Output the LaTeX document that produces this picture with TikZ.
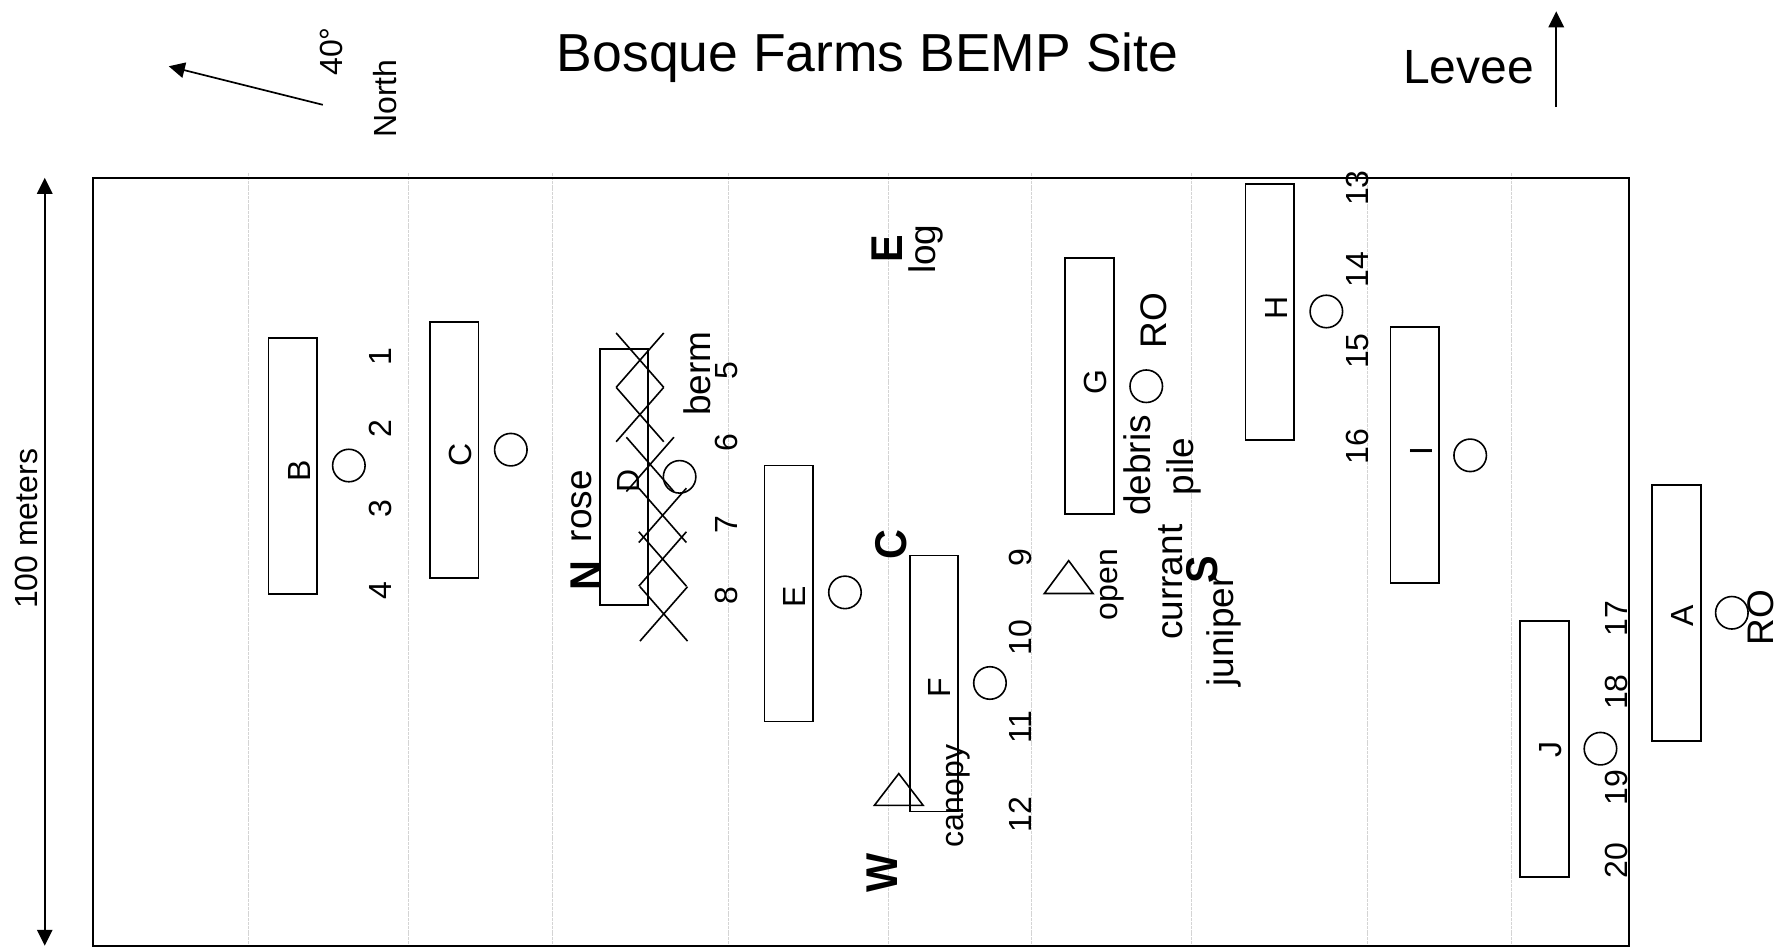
\documentclass[tikz,border=0pt]{standalone}
\usepackage{fontspec}
\setmainfont{Liberation Sans}
\usetikzlibrary{arrows.meta}
\newcommand{\sz}[1]{\fontsize{#1}{#1}\selectfont}
\newcommand{\bt}[1]{\scalebox{0.93}[1]{#1}}
\tikzset{
  plotbox/.style={draw=black,line width=1.8pt,minimum width=48.5pt,minimum height=256pt,inner sep=0pt},
  ring/.style={draw=black,line width=1.6pt,circle,minimum size=32.5pt,inner sep=0pt},
  vtxt/.style={rotate=90,anchor=base,inner sep=0pt,text=black},
  small/.style={vtxt,font=\sz{32}},
  big/.style={vtxt,font=\sz{37}},
  boldt/.style={vtxt,font=\bfseries\sz{44.5}},
  grid line/.style={draw=black!17,line width=0.9pt,dash pattern=on 3pt off 0.8pt},
  xmark/.style={draw=black,line width=1.6pt},
  tri/.style={draw=black,line width=1.6pt},
  arr/.style={draw=black,line width=1.7pt,-{Triangle[length=16pt,width=15.5pt]}},
  darr/.style={draw=black,line width=1.7pt,{Triangle[length=16pt,width=15.5pt]}-{Triangle[length=16pt,width=15.5pt]}}
}
\begin{document}
\begin{tikzpicture}[x=1.13265pt,y=-1.13265pt]
\useasboundingbox (0,0) rectangle (1568,837);
% grid lines
\foreach \gx in {219,360.5,487.5,643,784.5,911,1052,1207.5,1334.5}
  \draw[grid line] (\gx,153) -- (\gx,833);
% frame
\node[draw=black,line width=1.9pt,inner sep=0pt,minimum width=1536pt,minimum height=768pt] (frame) at (760,496) {};
% title
\node[anchor=base,inner sep=0pt,font=\sz{53.5}] (title) at (766,63) {Bosque Farms BEMP Site};
\node[anchor=base,inner sep=0pt,font=\sz{48}] (levee) at (1296.5,73.5) {Levee};
% arrows
\coordinate (lv0) at (1374,94.5); \coordinate (lv1) at (1374,10);
\draw[arr] (lv0) -- (lv1);
\coordinate (nr0) at (285,92.5); \coordinate (nr1) at (149,58.5);
\draw[arr] (nr0) -- (nr1);
\coordinate (m0) at (39.5,157); \coordinate (m1) at (39.5,835);
\draw[darr] (m0) -- (m1);
\node[small] (deg) at (302,45.5) {40°};
\node[small] (north) at (350,87) {North};
\node[small] (meters) at (33,467) {100 meters};
% plots
\node[plotbox] (pB) at (258.5,411.5) {};
\node[plotbox] (pC) at (401,397.5) {};
\node[plotbox] (pD) at (551,421) {};
\node[plotbox] (pE) at (696.3,524) {};
\node[plotbox] (pF) at (824.7,603.5) {};
\node[plotbox] (pG) at (962,341) {};
\node[plotbox] (pH) at (1121,275.3) {};
\node[plotbox] (pI) at (1249,402) {};
\node[plotbox] (pJ) at (1363.7,661) {};
\node[plotbox] (pA) at (1480,541) {};
% letters
\node[small] (lB) at (274,416) {B};
\node[small] (lC) at (416,402) {C};
\node[small] (lD) at (565,425) {D};
\node[small] (lE) at (711.5,527) {E};
\node[small] (lF) at (839.5,607) {F};
\node[small] (lG) at (977,337) {G};
\node[small] (lH) at (1137,272) {H};
\node[small] (lI) at (1265,398) {I};
\node[small] (lJ) at (1379,662) {J};
\node[small] (lA) at (1495,544) {A};
% rings
\node[ring] (c1) at (308,411) {};
\node[ring] (c2) at (451,397) {};
\node[ring] (c3) at (600,421) {};
\node[ring] (c4) at (746,523) {};
\node[ring] (c5) at (874,603) {};
\node[ring] (c6) at (1012,341) {};
\node[ring] (c7) at (1171,275) {};
\node[ring] (c8) at (1298,402) {};
\node[ring] (c9) at (1413,661) {};
\node[ring] (c10) at (1529,541) {};
% triangles
\draw[tri] (793.5,683) -- (772,711) -- (815,711) -- cycle;
\draw[tri] (943.5,495) -- (922,524) -- (965,524) -- cycle;
% crosses (D plot)
\foreach \cx/\cy in {565/318, 565/366, 574/410, 585/455, 585/493.5, 586/542}
{
  \draw[xmark] (\cx-21,\cy-24) -- (\cx+21,\cy+24);
  \draw[xmark] (\cx+21,\cy-24) -- (\cx-21,\cy+24);
}
% numbers
\foreach \nx/\ny/\t in {346/315/1,346/378/2,346/449/3,346/521/4,
  651/327/5,651/391/6,651/463/7,651/526/8,
  911/492/9,911/563/10,911/642/11,911/719/12,
  1208/166/13,1208/238/14,1208/310/15,1208/394/16,
  1437/546/17,1437/611/18,1437/695/19,1437/760/20}
  \node[small] (n\t) at (\nx,\ny) {\t};
% vegetation labels
\node[big] (rose) at (522,447) {rose};
\node[big] (berm) at (627,330) {berm};
\node[big] (log) at (826,220) {log};
\node[big] (ro1) at (1030,283) {RO};
\node[big] (debris) at (1016,411) {debris};
\node[big] (pile) at (1054,412) {pile};
\node[big] (currant) at (1044,514) {currant};
\node[big] (juniper) at (1089,557) {juniper};
\node[big] (ro2) at (1566,545) {RO};
\node[small] (canopy) at (851,703) {canopy};
\node[small] (open) at (987,516) {open};
% compass letters
\node[boldt] (bN) at (531,508) {\bt{N}};
\node[boldt] (bE) at (797,220) {\bt{E}};
\node[boldt] (bC) at (800,481) {\bt{C}};
\node[boldt] (bS) at (1075,503) {\bt{S}};
\node[boldt] (bW) at (792,771) {\bt{W}};
\end{tikzpicture}
\end{document}
